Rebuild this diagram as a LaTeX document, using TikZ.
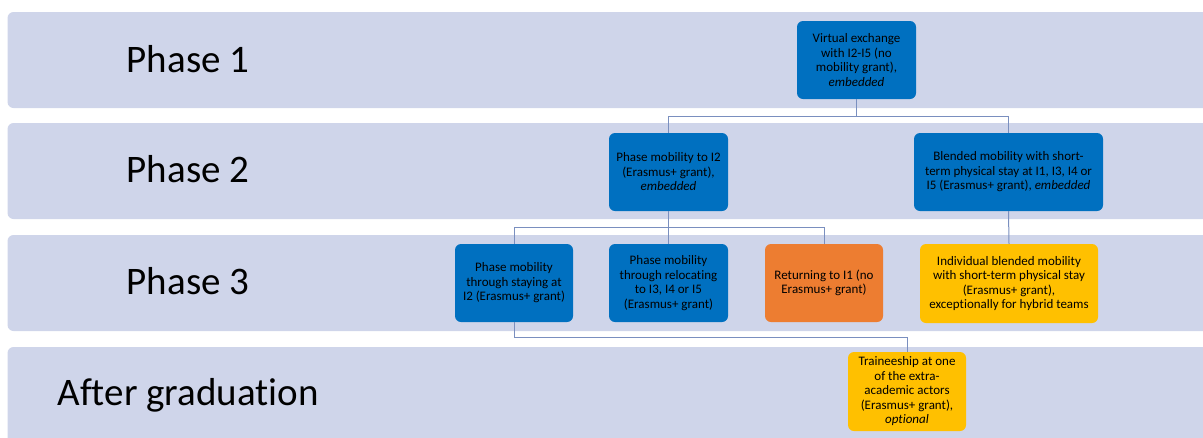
\documentclass[tikz,border=0pt]{standalone}
\usepackage{fontspec}
\setmainfont{Carlito}[Ligatures=NoCommon]

\definecolor{bandblue}{HTML}{CFD5EA}
\definecolor{boxblue}{HTML}{0070C0}
\definecolor{boxorange}{HTML}{ED7D31}
\definecolor{boxgold}{HTML}{FFC000}
\definecolor{linkgrey}{HTML}{7A8FBF}

\begin{document}
\begin{tikzpicture}[x=1pt, y=-1pt,
  band/.style={fill=bandblue, rounded corners=6pt},
  phase/.style={font=\fontsize{39}{46}\selectfont, anchor=base},
  stage/.style={rounded corners=6pt, align=center, minimum height=78pt,
    inner sep=2pt, font=\fontsize{13}{14.5}\selectfont},
  blue stage/.style={stage, fill=boxblue},
  orange stage/.style={stage, fill=boxorange},
  gold stage/.style={stage, fill=boxgold},
  link/.style={draw=linkgrey, line width=1pt}]
  \useasboundingbox (0,0) rectangle (1203,437);

  % phase bands
  \fill[band] (7.5,12) rectangle (1215,108);
  \fill[band] (7.5,123) rectangle (1215,219);
  \fill[band] (7.5,235) rectangle (1215,331);
  \fill[band] (7.5,347) rectangle (1215,450);
  \node[phase] (phaseone) at (188,72) {Phase 1};
  \node[phase] (phasetwo) at (188,182) {Phase 2};
  \node[phase] (phasethree) at (188,294) {Phase 3};
  \node[phase] (after) at (188,405) {After graduation};

  % mobility options
  \node[blue stage, minimum width=119pt] (virtual) at (856.5,60)
    {Virtual exchange\\with I2-I5 (no\\mobility grant),\\\textit{embedded}};
  \node[blue stage, minimum width=119pt] (toitwo) at (668.5,172)
    {Phase mobility to I2\\(Erasmus+ grant),\\\textit{embedded}};
  \node[blue stage, minimum width=189pt] (blended) at (1008.5,172)
    {Blended mobility with short-\\term physical stay at I1, I3, I4 or\\I5 (Erasmus+ grant), \textit{embedded}};
  \node[blue stage, minimum width=118pt] (staying) at (514,283)
    {Phase mobility\\through staying at\\I2 (Erasmus+ grant)};
  \node[blue stage, minimum width=119pt] (relocating) at (668.5,283)
    {Phase mobility\\through relocating\\to I3, I4 or I5\\(Erasmus+ grant)};
  \node[orange stage, minimum width=118pt] (returning) at (824,283)
    {Returning to I1 (no\\Erasmus+ grant)};
  \node[gold stage, minimum width=178pt, minimum height=79pt] (individual) at (1009,283.5)
    {Individual blended mobility\\with short-term physical stay\\(Erasmus+ grant),\\exceptionally for hybrid teams};
  \node[gold stage, minimum width=118pt, minimum height=79pt] (trainee) at (907,391.5)
    {Traineeship at one\\of the extra-\\academic actors\\(Erasmus+ grant),\\\textit{optional}};

  % connectors
  \draw[link] (virtual.south) -- ++(0,17) coordinate (forkone);
  \draw[link] (toitwo.north) |- (forkone) -| (blended.north);
  \draw[link] (toitwo.south) -- ++(0,16) coordinate (forktwo);
  \draw[link] (staying.north) |- (forktwo) -| (returning.north);
  \draw[link] (forktwo) -- (relocating.north);
  \draw[link] (blended.south) -- (individual.north);
  \draw[link] (staying.south) -- ++(0,15) -| (trainee.north);
\end{tikzpicture}
\end{document}
